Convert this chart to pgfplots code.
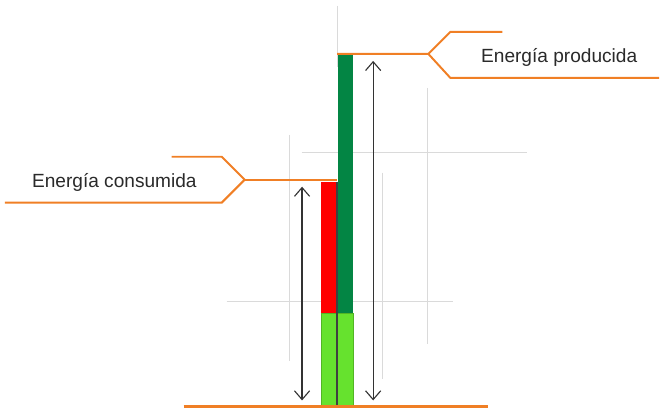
\documentclass[border=0pt]{standalone}
\usepackage{pgfplots}
\pgfplotsset{compat=1.18}
\usepackage{fontspec}
\setmainfont{Liberation Sans}
\usetikzlibrary{arrows.meta}
\definecolor{orangeL}{HTML}{F07F25}
\definecolor{lgreen}{HTML}{66E22E}
\definecolor{dgreen}{HTML}{038544}
\definecolor{gridg}{HTML}{DADADA}
\definecolor{txt}{HTML}{2A2A2A}
\pgfplotsset{base/.style={scale only axis, width=16.5cm, height=10.25cm,
  xmin=0, xmax=660, ymin=-3, ymax=407, hide axis, clip=false}}
\begin{document}
\begin{tikzpicture}
% light guide lines (behind)
\begin{axis}[base]
\addplot[draw=none] coordinates {(0,-3) (660,407)};
\addplot[gridg, line width=0.9pt] coordinates {(290,272) (290,45)};
\addplot[gridg, line width=0.9pt] coordinates {(338,401) (338,340)};
\addplot[gridg, line width=0.9pt] coordinates {(383,234) (383,27)};
\addplot[gridg, line width=0.9pt] coordinates {(428,319) (428,62)};
\addplot[gridg, line width=0.9pt] coordinates {(302,254) (528,254)};
\addplot[gridg, line width=0.9pt] coordinates {(227,105) (454,105)};
\end{axis}
% bars
\begin{axis}[base, ybar stacked, bar width=16]
\addplot[fill=lgreen, draw=lgreen!80!black, line width=0.3pt] coordinates {(329.5,93) (346,93)};
\addplot[fill=red, draw=none] coordinates {(329.5,132) (346,0)};
\addplot[fill=dgreen, draw=none] coordinates {(329.5,0) (346,258.5)};
\end{axis}
% annotations
\begin{axis}[base]
\addplot[black!75, line width=1.1pt] coordinates {(337.5,0) (337.5,225)};
% baseline
\addplot[orangeL, line width=2pt] coordinates {(184,0) (489,0)};
% consumida callout
\addplot[orangeL, line width=1.4pt] coordinates {(172,250) (222,250) (245,227) (222,204) (5,204)};
\addplot[orangeL, line width=1.4pt] coordinates {(245,227) (337.5,227)};
% producida callout
\addplot[orangeL, line width=1.4pt] coordinates {(337.5,353) (429,353) (451,375) (503,375)};
\addplot[orangeL, line width=1.4pt] coordinates {(429,353) (451,329) (660,329)};
% arrows
\addplot[black!80, line width=0.8pt, {Straight Barb[length=2.2mm,width=3.8mm]}-{Straight Barb[length=2.2mm,width=3.8mm]}] coordinates {(302.5,220) (302.5,6)};
\addplot[black!80, line width=0.8pt, {Straight Barb[length=2.2mm,width=3.8mm]}-{Straight Barb[length=2.2mm,width=3.8mm]}] coordinates {(373.7,346) (373.7,6)};
\node[anchor=base, text=txt, inner sep=0pt, font=\fontsize{13.6}{16}\selectfont] at (axis cs:560,344) {Energía producida};
\node[anchor=base, text=txt, inner sep=0pt, font=\fontsize{13.6}{16}\selectfont] at (axis cs:114.5,219) {Energía consumida};
\end{axis}
\end{tikzpicture}
\end{document}
